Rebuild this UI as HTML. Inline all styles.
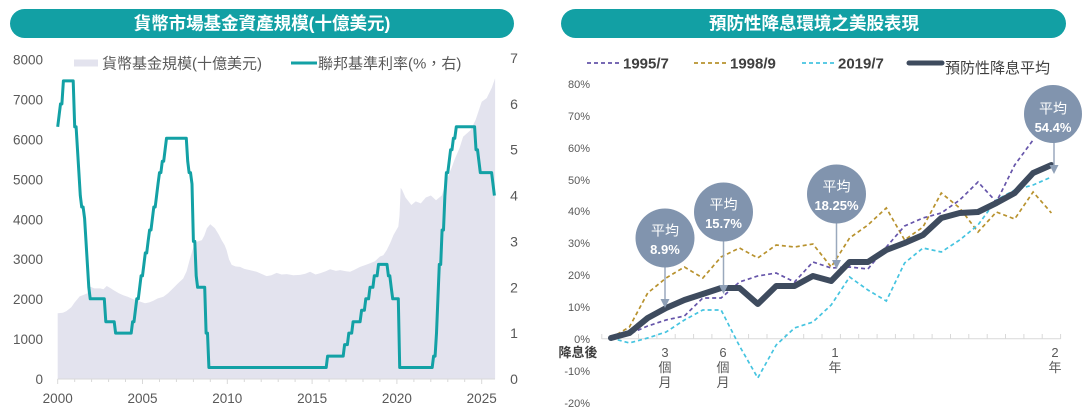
<!DOCTYPE html>
<html>
<head>
<meta charset="utf-8">
<style>
html,body{margin:0;padding:0;background:#fff;}
body{width:1090px;height:410px;overflow:hidden;}
svg{display:block;}
.t{font-family:"Liberation Sans","Noto Sans CJK TC",sans-serif;}
</style>
</head>
<body>
<svg width="1090" height="410" viewBox="0 0 1090 410" xmlns="http://www.w3.org/2000/svg">
  <!-- ===== LEFT PANEL ===== -->
  <rect x="10" y="9" width="504" height="29" rx="14.5" ry="14.5" fill="#12a0a4"/>
  <text class="t" x="262" y="29.5" text-anchor="middle" font-size="17.5" font-weight="bold" fill="#ffffff">貨幣市場基金資產規模(十億美元)</text>

  <!-- legend -->
  <rect x="74" y="59.5" width="24" height="7" fill="#e3e3ee"/>
  <text class="t" x="102" y="68.5" font-size="15" fill="#595959">貨幣基金規模(十億美元)</text>
  <line x1="291" y1="63" x2="317" y2="63" stroke="#13a1a5" stroke-width="3"/>
  <text class="t" x="318" y="68.5" font-size="15" fill="#595959">聯邦基準利率(%，右)</text>

  <!-- area -->
  <polygon fill="#e3e3ee" points="57.7,379 57.7,313.2 62.8,312.8 66.2,311.2 71.3,307.2 74.7,302.4 79.7,296.4 84.8,294.4 87.4,293.2 89.1,286.0 91.6,287.2 94.2,288.4 100.1,288.4 103.5,289.2 106.7,286.0 110.3,288.0 113.3,290.0 118.8,293.2 123.3,295.2 128.9,297.2 133.3,299.2 139.1,301.2 145.0,303.2 149.3,302.4 153.3,300.8 157.8,298.4 163.4,296.8 168.0,293.2 173.0,288.4 178.1,283.2 183.2,278.5 186.6,271.3 190.0,258.5 193.4,247.3 196.8,241.7 201.9,240.1 204.4,235.4 206.9,228.2 210.3,224.2 214.9,228.2 218.8,234.6 221.6,240.1 224.7,245.3 226.6,250.1 229.0,259.3 231.7,264.9 235.8,266.5 240.0,266.9 244.3,268.9 249.9,270.1 256.6,271.7 261.2,273.7 266.6,276.1 271.4,275.3 276.6,272.9 281.6,274.5 286.7,274.1 293.4,275.3 300.1,274.9 305.3,273.7 310.1,271.7 315.5,274.5 320.1,273.3 325.7,271.3 330.1,269.3 335.9,270.9 340.1,270.1 346.0,271.3 350.1,271.7 354.5,269.7 360.1,266.9 364.7,265.3 370.1,263.3 374.9,261.3 380.0,256.5 383.3,255.3 386.7,250.1 390.1,243.3 393.5,235.0 398.3,226.6 399.5,215.4 400.7,187.9 402.1,189.9 405.5,197.5 411.4,205.0 415.7,201.4 420.8,203.4 425.8,197.5 430.9,195.5 436.0,200.2 441.8,195.5 446.8,179.5 451.7,167.5 454.6,159.5 459.7,147.6 463.1,136.8 470.7,130.0 475.7,119.6 481.7,101.7 486.7,98.1 491.8,87.7 495.1,78.2 495.1,379"/>

  <!-- x axis -->
  <line x1="57.7" y1="379" x2="495" y2="379" stroke="#d9d9d9" stroke-width="1"/>
  <g stroke="#d9d9d9" stroke-width="1">
    <line x1="57.7" y1="379" x2="57.7" y2="384"/>
    <line x1="74.7" y1="379" x2="74.7" y2="382"/>
    <line x1="91.6" y1="379" x2="91.6" y2="382"/>
    <line x1="108.6" y1="379" x2="108.6" y2="382"/>
    <line x1="125.5" y1="379" x2="125.5" y2="382"/>
    <line x1="142.5" y1="379" x2="142.5" y2="384"/>
    <line x1="159.5" y1="379" x2="159.5" y2="382"/>
    <line x1="176.4" y1="379" x2="176.4" y2="382"/>
    <line x1="193.4" y1="379" x2="193.4" y2="382"/>
    <line x1="210.3" y1="379" x2="210.3" y2="382"/>
    <line x1="227.3" y1="379" x2="227.3" y2="384"/>
    <line x1="244.3" y1="379" x2="244.3" y2="382"/>
    <line x1="261.2" y1="379" x2="261.2" y2="382"/>
    <line x1="278.2" y1="379" x2="278.2" y2="382"/>
    <line x1="295.1" y1="379" x2="295.1" y2="382"/>
    <line x1="312.1" y1="379" x2="312.1" y2="384"/>
    <line x1="329.1" y1="379" x2="329.1" y2="382"/>
    <line x1="346.0" y1="379" x2="346.0" y2="382"/>
    <line x1="363.0" y1="379" x2="363.0" y2="382"/>
    <line x1="379.9" y1="379" x2="379.9" y2="382"/>
    <line x1="396.9" y1="379" x2="396.9" y2="384"/>
    <line x1="413.9" y1="379" x2="413.9" y2="382"/>
    <line x1="430.8" y1="379" x2="430.8" y2="382"/>
    <line x1="447.8" y1="379" x2="447.8" y2="382"/>
    <line x1="464.7" y1="379" x2="464.7" y2="382"/>
    <line x1="481.7" y1="379" x2="481.7" y2="384"/>
  </g>

  <!-- fed funds line -->
  <polyline fill="none" stroke="#13a1a5" stroke-width="3" stroke-linejoin="round" points="57.7,126.8 59.1,115.3 60.5,103.9 61.9,103.9 63.4,80.9 73.2,80.9 74.7,126.8 76.1,126.8 77.5,149.7 78.9,172.6 80.3,195.6 81.7,207.0 83.1,207.0 84.6,218.5 86.0,241.4 87.4,264.4 88.8,287.3 90.2,298.8 104.3,298.8 105.8,321.7 114.2,321.7 115.6,333.1 131.2,333.1 132.6,321.7 134.0,321.7 135.4,310.2 136.8,298.8 138.3,298.8 139.7,287.3 141.1,275.8 142.5,275.8 143.9,264.4 145.3,252.9 146.7,252.9 148.1,241.4 149.6,230.0 151.0,230.0 152.4,218.5 153.8,207.0 155.2,207.0 156.6,195.6 158.0,184.1 159.5,172.6 160.9,172.6 162.3,161.2 163.7,161.2 165.1,149.7 166.5,138.3 186.3,138.3 187.7,161.2 189.1,172.6 190.5,172.6 192.0,184.1 193.4,241.4 194.8,241.4 196.2,275.8 197.6,287.3 204.7,287.3 206.1,333.1 207.5,333.1 208.9,367.5 326.2,367.5 327.6,356.1 343.2,356.1 344.6,344.6 347.4,344.6 348.8,333.1 351.7,333.1 353.1,321.7 360.1,321.7 361.6,310.2 364.4,310.2 365.8,298.8 368.6,298.8 370.0,287.3 372.9,287.3 374.3,275.8 377.1,275.8 378.5,264.4 387.0,264.4 388.4,275.8 389.8,275.8 391.2,287.3 392.7,298.8 398.3,298.8 399.7,367.5 432.2,367.5 433.6,356.1 435.1,356.1 436.5,333.1 437.9,298.8 439.3,264.4 440.7,264.4 442.1,230.0 443.5,230.0 444.9,195.6 446.4,172.6 447.8,172.6 449.2,161.2 450.6,149.7 452.0,149.7 453.4,138.3 454.8,138.3 456.3,126.8 474.6,126.8 476.0,149.7 477.5,149.7 478.9,161.2 480.3,172.6 491.6,172.6 493.0,184.1 494.4,195.6"/>

  <!-- left y labels -->
  <g class="t" font-size="13.5" fill="#595959" text-anchor="end">
    <text x="43" y="64.7">8000</text>
    <text x="43" y="104.6">7000</text>
    <text x="43" y="144.5">6000</text>
    <text x="43" y="184.4">5000</text>
    <text x="43" y="224.3">4000</text>
    <text x="43" y="264.2">3000</text>
    <text x="43" y="304.1">2000</text>
    <text x="43" y="344.0">1000</text>
    <text x="43" y="383.9">0</text>
  </g>
  <!-- right y labels -->
  <g class="t" font-size="14" fill="#595959" text-anchor="middle">
    <text x="514" y="63">7</text>
    <text x="514" y="108.8">6</text>
    <text x="514" y="154.7">5</text>
    <text x="514" y="200.6">4</text>
    <text x="514" y="246.4">3</text>
    <text x="514" y="292.3">2</text>
    <text x="514" y="338.1">1</text>
    <text x="514" y="384">0</text>
  </g>
  <!-- x labels -->
  <g class="t" font-size="13.5" fill="#595959" text-anchor="middle">
    <text x="57.7" y="403">2000</text>
    <text x="142.5" y="403">2005</text>
    <text x="227.3" y="403">2010</text>
    <text x="312.1" y="403">2015</text>
    <text x="396.9" y="403">2020</text>
    <text x="481.7" y="403">2025</text>
  </g>

  <!-- ===== RIGHT PANEL ===== -->
  <rect x="561" y="9" width="505" height="29" rx="14.5" ry="14.5" fill="#12a0a4"/>
  <text class="t" x="814" y="29.5" text-anchor="middle" font-size="17.5" font-weight="bold" fill="#ffffff">預防性降息環境之美股表現</text>

  <!-- legend -->
  <line x1="587" y1="63" x2="621" y2="63" stroke="#6655aa" stroke-width="1.8" stroke-dasharray="4 3"/>
  <text class="t" x="623" y="68.5" font-size="15" font-weight="bold" fill="#404040">1995/7</text>
  <line x1="694" y1="63" x2="728" y2="63" stroke="#b8922e" stroke-width="1.8" stroke-dasharray="4 3"/>
  <text class="t" x="730" y="68.5" font-size="15" font-weight="bold" fill="#404040">1998/9</text>
  <line x1="802" y1="63" x2="836" y2="63" stroke="#45c4e0" stroke-width="1.8" stroke-dasharray="4 3"/>
  <text class="t" x="838" y="68.5" font-size="15" font-weight="bold" fill="#404040">2019/7</text>
  <line x1="909" y1="63" x2="942" y2="63" stroke="#3e4b5e" stroke-width="5" stroke-linecap="round"/>
  <text class="t" x="945" y="73" font-size="15" fill="#404040">預防性降息平均</text>

  <!-- y labels -->
  <g class="t" font-size="11" fill="#595959" text-anchor="end">
    <text x="590" y="88">80%</text>
    <text x="590" y="120">70%</text>
    <text x="590" y="152">60%</text>
    <text x="590" y="184">50%</text>
    <text x="590" y="215">40%</text>
    <text x="590" y="247">30%</text>
    <text x="590" y="279">20%</text>
    <text x="590" y="311">10%</text>
    <text x="590" y="343">0%</text>
    <text x="590" y="375">-10%</text>
    <text x="590" y="407">-20%</text>
  </g>

  <!-- x axis -->
  <line x1="601.8" y1="338.7" x2="1060.6" y2="338.7" stroke="#d9d9d9" stroke-width="1"/>
  <g stroke="#d9d9d9" stroke-width="1">
    <line x1="601.8" y1="334" x2="601.8" y2="339"/>
    <line x1="620.2" y1="334" x2="620.2" y2="339"/>
    <line x1="638.5" y1="334" x2="638.5" y2="339"/>
    <line x1="656.9" y1="334" x2="656.9" y2="339"/>
    <line x1="675.2" y1="334" x2="675.2" y2="339"/>
    <line x1="693.6" y1="334" x2="693.6" y2="339"/>
    <line x1="711.9" y1="334" x2="711.9" y2="339"/>
    <line x1="730.3" y1="334" x2="730.3" y2="339"/>
    <line x1="748.6" y1="334" x2="748.6" y2="339"/>
    <line x1="767.0" y1="334" x2="767.0" y2="339"/>
    <line x1="785.3" y1="334" x2="785.3" y2="339"/>
    <line x1="803.7" y1="334" x2="803.7" y2="339"/>
    <line x1="822.0" y1="334" x2="822.0" y2="339"/>
    <line x1="840.4" y1="334" x2="840.4" y2="339"/>
    <line x1="858.7" y1="334" x2="858.7" y2="339"/>
    <line x1="877.1" y1="334" x2="877.1" y2="339"/>
    <line x1="895.4" y1="334" x2="895.4" y2="339"/>
    <line x1="913.8" y1="334" x2="913.8" y2="339"/>
    <line x1="932.1" y1="334" x2="932.1" y2="339"/>
    <line x1="950.5" y1="334" x2="950.5" y2="339"/>
    <line x1="968.8" y1="334" x2="968.8" y2="339"/>
    <line x1="987.2" y1="334" x2="987.2" y2="339"/>
    <line x1="1005.5" y1="334" x2="1005.5" y2="339"/>
    <line x1="1023.9" y1="334" x2="1023.9" y2="339"/>
    <line x1="1042.2" y1="334" x2="1042.2" y2="339"/>
    <line x1="1060.6" y1="334" x2="1060.6" y2="339"/>
  </g>

  <!-- x labels -->
  <g class="t" font-size="13" fill="#595959" text-anchor="middle">
    <text x="578" y="357" font-weight="bold" fill="#404040">降息後</text>
    <text x="665" y="357">3</text>
    <text x="665" y="372">個</text>
    <text x="665" y="387">月</text>
    <text x="723" y="357">6</text>
    <text x="723" y="372">個</text>
    <text x="723" y="387">月</text>
    <text x="835" y="357">1</text>
    <text x="835" y="372">年</text>
    <text x="1055" y="357">2</text>
    <text x="1055" y="372">年</text>
  </g>

  <!-- series -->
  <polyline fill="none" stroke="#b8922e" stroke-width="1.7" stroke-dasharray="4 3" points="611,338 629.4,327 647.7,293 666.1,278 684.4,267 702.8,278 721.1,257 739.5,248 757.8,258 776.2,245 794.5,247 812.9,244 831.2,267 849.6,238 867.9,225 886.3,208 904.6,240 923,227 941.3,193 959.7,208 978,232 996.4,212 1014.7,219 1033.1,192 1051.4,213"/>
  <polyline fill="none" stroke="#45c4e0" stroke-width="1.7" stroke-dasharray="4 3" points="611,338 629.4,343 647.7,338 666.1,332 684.4,320 702.8,310 721.1,310 739.5,346 757.8,378 776.2,345 794.5,328 812.9,322 831.2,305 849.6,277 867.9,290 886.3,301 904.6,263 923,248 941.3,252 959.7,240 978,225 996.4,200 1014.7,190 1033.1,185 1051.4,177"/>
  <polyline fill="none" stroke="#6655aa" stroke-width="1.7" stroke-dasharray="4 3" points="611,338 629.4,334 647.7,326 666.1,320 684.4,316 702.8,298 721.1,298 739.5,282 757.8,276 776.2,273 794.5,282 812.9,262 831.2,268 849.6,267 867.9,269 886.3,247 904.6,226 923,218 941.3,213 959.7,200 978,182 996.4,202 1014.7,165 1033.1,140"/>
  <polyline fill="none" stroke="#3e4b5e" stroke-width="6" stroke-linejoin="round" stroke-linecap="round" points="611,338 629.4,333 647.7,318 666.1,308 684.4,300 702.8,294 721.1,288 739.5,288 757.8,304 776.2,286 794.5,286 812.9,276 831.2,281 849.6,262 867.9,262 886.3,250 904.6,243 923,235 941.3,218 959.7,213 978,212 996.4,203 1014.7,193 1033.1,173 1051.4,165"/>

  <!-- bubbles & arrows -->
  <g stroke="#9aa9bd" stroke-width="1.5">
    <line x1="665" y1="266" x2="665" y2="300"/>
    <line x1="723.5" y1="240" x2="723.5" y2="286"/>
    <line x1="836.5" y1="222" x2="836.5" y2="261"/>
    <line x1="1054" y1="142" x2="1054" y2="166"/>
  </g>
  <g fill="#8fa0b7">
    <polygon points="660.5,299 669.5,299 665,308"/>
    <polygon points="719,285 728,285 723.5,294"/>
    <polygon points="832,260 841,260 836.5,269"/>
    <polygon points="1049.5,165 1058.5,165 1054,174"/>
  </g>
  <g fill="#8194ae">
    <circle cx="665" cy="238" r="29.5"/>
    <circle cx="723.5" cy="212" r="29.5"/>
    <circle cx="836.5" cy="194" r="29.5"/>
    <circle cx="1053" cy="114" r="29"/>
  </g>
  <g class="t" fill="#ffffff" text-anchor="middle">
    <text x="665" y="235.5" font-size="14">平均</text>
    <text x="665" y="254" font-size="13" font-weight="bold">8.9%</text>
    <text x="723.5" y="209.5" font-size="14">平均</text>
    <text x="723.5" y="228" font-size="13" font-weight="bold">15.7%</text>
    <text x="836.5" y="191.5" font-size="14">平均</text>
    <text x="836.5" y="210" font-size="13" font-weight="bold">18.25%</text>
    <text x="1053" y="113.5" font-size="14">平均</text>
    <text x="1053" y="132" font-size="13" font-weight="bold">54.4%</text>
  </g>
</svg>
</body>
</html>
